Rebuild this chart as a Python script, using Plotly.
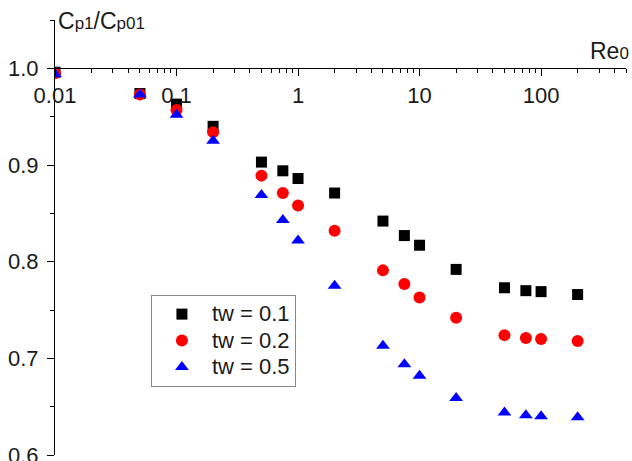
import plotly.graph_objects as go

re0 = [0.01, 0.05, 0.1, 0.2, 0.5, 0.75, 1, 2, 5, 7.5, 10, 20, 50, 75, 100, 200]
tw01 = [0.996, 0.974, 0.963, 0.940, 0.903, 0.894, 0.886, 0.871, 0.842, 0.827, 0.817, 0.792, 0.773, 0.770, 0.769, 0.766]
tw02 = [0.995, 0.973, 0.957, 0.934, 0.889, 0.871, 0.858, 0.832, 0.791, 0.777, 0.763, 0.742, 0.724, 0.721, 0.720, 0.718]
tw05 = [0.994, 0.973, 0.952, 0.925, 0.869, 0.843, 0.822, 0.775, 0.713, 0.694, 0.682, 0.659, 0.644, 0.641, 0.640, 0.639]

x_ticks = [0.01, 0.1, 1, 10, 100]
x_tick_labels = ["0.01", "0.1", "1", "10", "100"]
series_names = ["tw = 0.1", "tw = 0.2", "tw = 0.5"]

FONT = "Arial, Liberation Sans, sans-serif"
TXT = "#1a1a1a"

x_minor = [m * 10 ** e for e in range(-2, 3) for m in range(2, 10) if m * 10 ** e <= 500]


def lg(name):
    return '<span style="font-size:22px">' + name + '</span>'


fig = go.Figure()
fig.add_trace(go.Scatter(x=re0, y=tw01, mode="markers", name=lg(series_names[0]),
                         marker=dict(symbol="square", size=11, color="#000000")))
fig.add_trace(go.Scatter(x=re0, y=tw02, mode="markers", name=lg(series_names[1]),
                         marker=dict(symbol="circle", size=12, color="#ff0000")))
fig.add_trace(go.Scatter(x=re0, y=tw05, mode="markers", name=lg(series_names[2]),
                         marker=dict(symbol="triangle-up", size=12, color="#0000ff")))

ymin, ymax = 0.6, 1.05
fig.update_layout(
    template="none",
    width=632, height=461,
    margin=dict(l=55, r=6, t=20, b=6, autoexpand=False),
    plot_bgcolor="white", paper_bgcolor="white",
    font=dict(family=FONT, size=21, color=TXT),
    xaxis=dict(type="log", range=[-2, 2.69897], anchor="free",
               position=(1.0 - ymin) / (ymax - ymin), automargin=False,
               showline=True, linecolor="black", linewidth=1,
               showgrid=False, zeroline=False,
               tickmode="array", tickvals=x_ticks, ticktext=x_tick_labels,
               ticks="outside", ticklen=7, tickwidth=1, tickcolor="black",
               ticklabeloverflow="allow",
               minor=dict(tickmode="array", tickvals=x_minor, ticks="outside", ticklen=4, tickwidth=1, tickcolor="black", showgrid=False),
               tickfont=dict(size=22, color=TXT)),
    yaxis=dict(range=[ymin, ymax], showline=True, linecolor="black", linewidth=1,
               showgrid=False, zeroline=False, automargin=False,
               tickmode="linear", tick0=0.6, dtick=0.1, tickformat=".1f",
               ticks="outside", ticklen=7, tickwidth=1, tickcolor="black",
               ticklabeloverflow="allow", ticklabelstandoff=4,
               minor=dict(tickmode="linear", tick0=0.6, dtick=0.05, ticks="outside", ticklen=4, tickwidth=1, tickcolor="black", showgrid=False),
               tickfont=dict(size=22, color=TXT)),
    legend=dict(x=0.168, y=0.368, xanchor="left", yanchor="top",
                bordercolor="#888888", borderwidth=1, bgcolor="white",
                font=dict(size=18, color=TXT), itemwidth=50),
    showlegend=True,
)

fig.add_annotation(xref="paper", yref="paper", x=0, y=1, xshift=1, yshift=-1,
                   xanchor="left", yanchor="middle", showarrow=False,
                   text='C<span style="font-size:17px">p1</span>/C<span style="font-size:17px">p01</span>',
                   font=dict(size=23, color=TXT))
fig.add_annotation(xref="paper", yref="y", x=1, y=1.0, yshift=2, xshift=5,
                   xanchor="right", yanchor="bottom", showarrow=False,
                   text='Re<span style="font-size:17px">0</span>',
                   font=dict(size=23, color=TXT))

fig.write_html("out.html")
